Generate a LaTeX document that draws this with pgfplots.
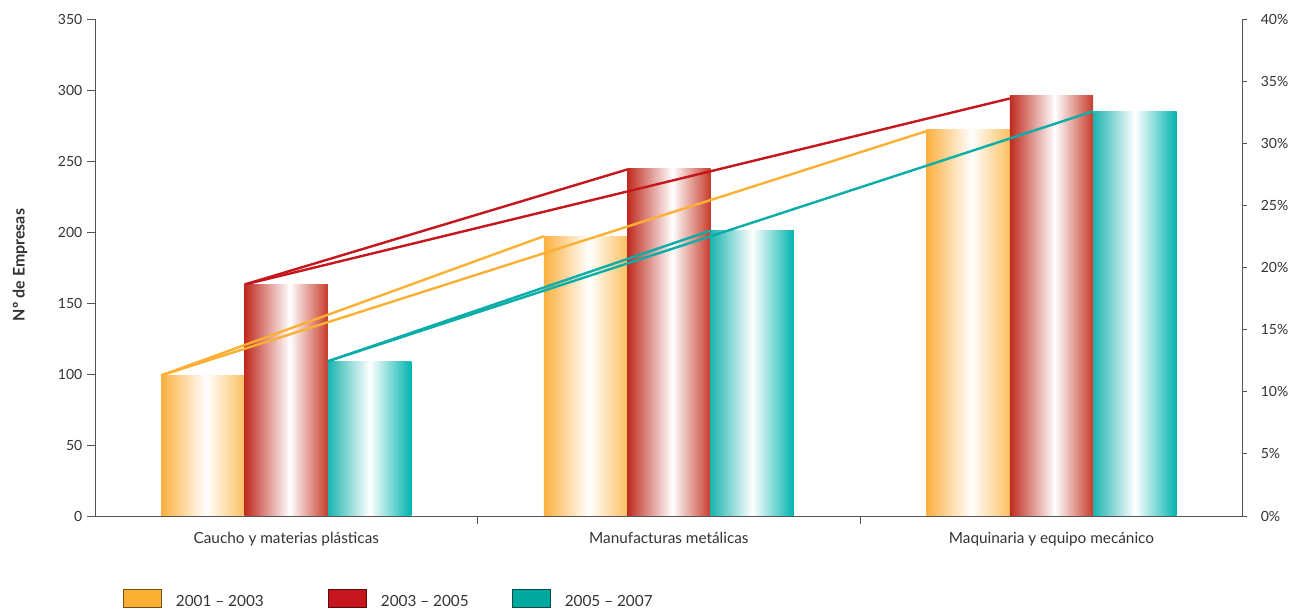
\documentclass[border=0pt]{standalone}
\usepackage{pgfplots}
\pgfplotsset{compat=1.18}
\usepackage{fontspec}
\setmainfont{Lato}
\definecolor{cyel}{HTML}{FBB034}
\definecolor{cred}{HTML}{C4161C}
\definecolor{cteal}{HTML}{00A99D}
\definecolor{lyel}{HTML}{FBB034}
\definecolor{lred}{HTML}{C4161C}
\definecolor{lteal}{HTML}{0AADA8}
\definecolor{yL}{HTML}{FBB03F}
\definecolor{yR}{HTML}{FCC062}
\definecolor{rL}{HTML}{BF2A1E}
\definecolor{rR}{HTML}{C73B2B}
\definecolor{tL}{HTML}{1DB4AF}
\definecolor{tR}{HTML}{00B4AF}
\definecolor{axgray}{HTML}{555555}
\definecolor{txt}{HTML}{333333}
\pgfdeclarehorizontalshading{yshade}{100bp}{color(0bp)=(yL); color(25bp)=(yL); color(52bp)=(white); color(75bp)=(yR); color(100bp)=(yR)}
\pgfdeclarehorizontalshading{rshade}{100bp}{color(0bp)=(rL); color(25bp)=(rL); color(52bp)=(white); color(75bp)=(rR); color(100bp)=(rR)}
\pgfdeclarehorizontalshading{tshade}{100bp}{color(0bp)=(tL); color(25bp)=(tL); color(50bp)=(white); color(75bp)=(tR); color(100bp)=(tR)}
\pgfplotsset{
  ybY/.style={forget plot, ybar, bar width=0.218, bar shift=-0.218, draw=none, shading=yshade, shading angle=0},
  ybR/.style={forget plot, ybar, bar width=0.218, bar shift=0, draw=none, shading=rshade, shading angle=0},
  ybT/.style={forget plot, ybar, bar width=0.218, bar shift=0.218, draw=none, shading=tshade, shading angle=0},
}
\begin{document}
\begin{tikzpicture}
\useasboundingbox (0,0) rectangle (971.25pt,456.75pt);
\begin{axis}[
  at={(71.25pt,69.75pt)}, anchor=south west,
  scale only axis, width=860.8pt, height=372.75pt,
  xmin=-0.5, xmax=2.5, ymin=0, ymax=350,
  axis y line*=left, axis x line*=bottom,
  axis line style={axgray, line width=0.6pt},
  tick style={axgray, line width=0.6pt},
  tick align=outside,
  major tick length=6pt, minor tick length=6pt,
  ytick={0,50,...,350},
  xtick={0,1,2},
  xticklabels={Caucho y materias plásticas, Manufacturas metálicas, Maquinaria y equipo mecánico},
  major x tick style={draw=none},
  minor xtick={0.5,1.5},
  /pgf/number format/assume math mode=true,
  ticklabel style={font=\fontsize{10.5pt}{12pt}\selectfont, text=txt},
  xticklabel style={yshift=-2.5pt, font=\fontsize{11.5pt}{13pt}\selectfont},
  ylabel={Nº de Empresas},
  ylabel style={at={(axis description cs:-0.0653,0.505)}, anchor=center, font=\fontsize{12pt}{14pt}\selectfont\bfseries, text=txt},
  clip=false,
  legend columns=3,
  legend style={at={(axis description cs:0.0244,-0.1665)}, anchor=west, draw=none, fill=none, inner sep=0pt, outer sep=0pt, column sep=0pt, row sep=0pt, nodes={inner sep=0pt, font=\fontsize{11.5pt}{13pt}\selectfont, text=txt}},
]
\addlegendimage{legend image code/.code={\draw[fill=cyel, draw=cyel!45!black, line width=0.7pt] (0pt,-4.5pt) rectangle (28.5pt,9pt);}}
\addlegendentry{\makebox[124.5pt][l]{\hspace{10.5pt}2001 – 2003}}
\addlegendimage{legend image code/.code={\draw[fill=cred, draw=cred!45!black, line width=0.7pt] (0pt,-4.5pt) rectangle (28.5pt,9pt);}}
\addlegendentry{\makebox[108.75pt][l]{\hspace{10.5pt}2003 – 2005}}
\addlegendimage{legend image code/.code={\draw[fill=cteal, draw=cteal!45!black, line width=0.7pt] (0pt,-4.5pt) rectangle (28.5pt,9pt);}}
\addlegendentry{\hspace{10.5pt}2005 – 2007}
% bars: 2001-2003
\addplot[ybY] coordinates {(0,99)};
\addplot[ybY] coordinates {(1,197)};
\addplot[ybY] coordinates {(2,272)};
% bars: 2003-2005
\addplot[ybR] coordinates {(0,163)};
\addplot[ybR] coordinates {(1,245)};
\addplot[ybR] coordinates {(2,296)};
% bars: 2005-2007
\addplot[ybT] coordinates {(0,109)};
\addplot[ybT] coordinates {(1,201)};
\addplot[ybT] coordinates {(2,285)};
% lines
\addplot[forget plot, lyel, line width=1.8pt, no marks] coordinates {(-0.327,99) (0.673,197)};
\addplot[forget plot, lyel, line width=1.8pt, no marks] coordinates {(-0.327,99) (1.673,271)};
\addplot[forget plot, lred, line width=1.8pt, no marks] coordinates {(-0.109,163) (0.891,244)};
\addplot[forget plot, lred, line width=1.8pt, no marks] coordinates {(-0.109,163) (1.891,294)};
\addplot[forget plot, lteal, line width=1.8pt, no marks] coordinates {(0.109,109) (1.109,201)};
\addplot[forget plot, lteal, line width=1.8pt, no marks] coordinates {(0.109,109) (2.109,285)};
\end{axis}
\begin{axis}[
  at={(71.25pt,69.75pt)}, anchor=south west,
  scale only axis, width=860.8pt, height=372.75pt,
  xmin=-0.5, xmax=2.5, ymin=0, ymax=40,
  axis y line*=right, axis x line=none,
  axis line style={axgray, line width=0.6pt},
  tick style={axgray, line width=0.6pt},
  tick align=outside, major tick length=3pt,
  ytick={0,5,...,40},
  yticklabel={\pgfmathprintnumber{\tick}\%},
  /pgf/number format/assume math mode=true,
  yticklabel style={font=\fontsize{10.5pt}{12pt}\selectfont, text=txt, xshift=7pt},
]
\addplot[draw=none, forget plot] coordinates {(0,0)};
\end{axis}
\end{tikzpicture}
\end{document}
